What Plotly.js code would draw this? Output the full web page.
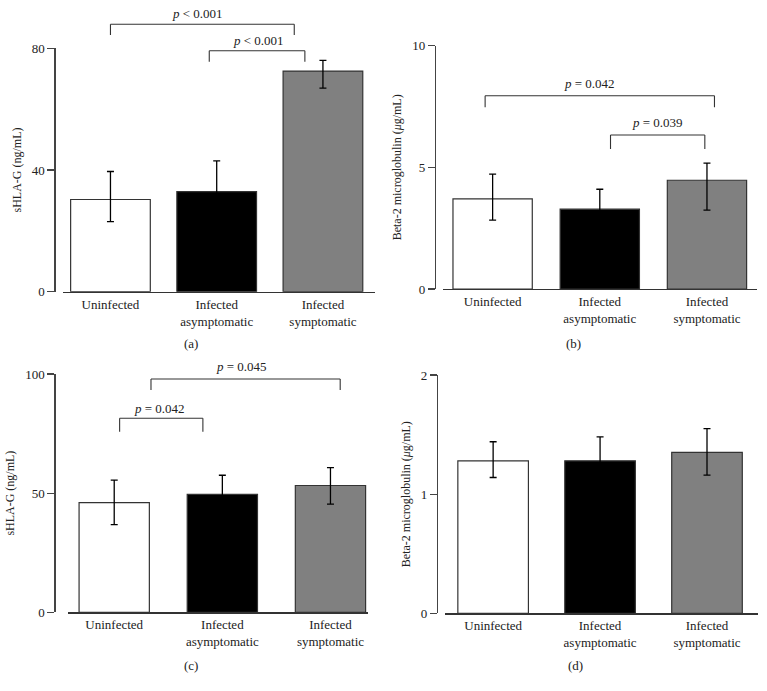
<!DOCTYPE html>
<html>
<head>
<meta charset="utf-8">
<script src="https://cdn.plot.ly/plotly-3.0.1.min.js"></script>
<style>html,body{margin:0;padding:0;background:#fff;}</style>
</head>
<body>
<div id="chart" style="width:767px;height:691px;"></div>
<script>
// ---- data ----
const categories = ['Uninfected', 'Infected<br>asymptomatic', 'Infected<br>symptomatic'];
const barColors = ['#ffffff', '#000000', '#808080'];

// (a) sHLA-G, ng/mL
const aMean = [30.3, 32.9, 72.5];
const aErrPlus = [9.2, 10.1, 3.5];
const aErrMinus = [7.3, 10.1, 5.6];
const aTicks = [0, 40, 80];

// (b) Beta-2 microglobulin, ug/mL
const bMean = [3.70, 3.28, 4.47];
const bErrPlus = [1.02, 0.82, 0.70];
const bErrMinus = [0.87, 0.82, 1.23];
const bTicks = [0, 5, 10];

// (c) sHLA-G, ng/mL
const cMean = [46.0, 49.5, 53.2];
const cErrPlus = [9.5, 8.0, 7.5];
const cErrMinus = [9.2, 8.0, 7.8];
const cTicks = [0, 50, 100];

// (d) Beta-2 microglobulin, ug/mL
const dMean = [1.28, 1.28, 1.35];
const dErrPlus = [0.16, 0.20, 0.20];
const dErrMinus = [0.14, 0.20, 0.19];
const dTicks = [0, 1, 2];

// significance brackets: [fromCategory, toCategory, label]
const aSig = [[0, 1.73, '<i>p</i> < 0.001'], [0.93, 1.83, '<i>p</i> < 0.001']];
const bSig = [[-0.07, 2.07, '<i>p</i> = 0.042'], [1.10, 1.98, '<i>p</i> = 0.039']];
const cSig = [[0.34, 2.09, '<i>p</i> = 0.045'], [0.05, 0.82, '<i>p</i> = 0.042']];

// ---- layout config ----
const FONT = 'Liberation Serif, Times New Roman, serif';
const panels = [
  {mean: aMean, ep: aErrPlus, em: aErrMinus, ticks: aTicks, title: 'sHLA-G (ng/mL)',
   xd: [0.0817, 0.4889], yd: [0.5779, 0.9301], pos: 0.0708, xr: [-0.45, 2.49], bw: 0.75,
   sig: aSig, sigY: [[87.9, 84.4, 91.6, 0.82], [79.2, 75.6, 82.6, 1.39]], tag: '(a)', tagXY: [0.2486, 0.5032]},
  {mean: bMean, ep: bErrPlus, em: bErrMinus, ticks: bTicks, title: 'Beta-2 microglobulin (<i>μ</i>g/mL)',
   xd: [0.5780, 0.9874], yd: [0.5818, 0.9339], pos: 0.5671, xr: [-0.46, 2.47], bw: 0.74,
   sig: bSig, sigY: [[7.94, 7.47, 8.43, 0.90], [6.33, 5.75, 6.84, 1.54]], tag: '(b)', tagXY: [0.7475, 0.5032]},
  {mean: cMean, ep: cErrPlus, em: cErrMinus, ticks: cTicks, title: 'sHLA-G (ng/mL)',
   xd: [0.0883, 0.4802], yd: [0.1139, 0.4588], pos: 0.0708, xr: [-0.43, 2.35], bw: 0.65,
   sig: cSig, sigY: [[97.9, 93.3, 103.1, 1.18], [81.4, 75.8, 85.6, 0.42]], tag: '(c)', tagXY: [0.2486, 0.0376]},
  {mean: dMean, ep: dErrPlus, em: dErrMinus, ticks: dTicks, title: 'Beta-2 microglobulin (<i>μ</i>g/mL)',
   xd: [0.5802, 0.9887], yd: [0.1124, 0.4573], pos: 0.5694, xr: [-0.45, 2.48], bw: 0.66,
   sig: [], sigY: [], tag: '(d)', tagXY: [0.7497, 0.0376]}
];

const traces = [];
const layout = {
  width: 767, height: 691,
  margin: {l: 0, r: 0, t: 0, b: 0},
  paper_bgcolor: '#ffffff', plot_bgcolor: 'rgba(0,0,0,0)',
  showlegend: false,
  font: {family: FONT, size: 13, color: '#222'},
  shapes: [], annotations: []
};

panels.forEach((p, i) => {
  const n = i === 0 ? '' : String(i + 1);
  const xa = 'x' + n, ya = 'y' + n;
  const ymax = p.ticks[p.ticks.length - 1];
  traces.push({
    type: 'bar', x: [0, 1, 2], y: p.mean, xaxis: xa, yaxis: ya, width: p.bw,
    marker: {color: barColors, line: {color: '#333', width: 1.2}},
    error_y: {type: 'data', symmetric: false, array: p.ep, arrayminus: p.em,
              color: '#000', thickness: 1.3, width: 3.5},
    hoverinfo: 'none'
  });
  layout['xaxis' + n] = {
    domain: p.xd, anchor: ya, range: p.xr,
    tickmode: 'array', tickvals: [0, 1, 2], ticktext: categories,
    showline: true, linecolor: '#333', linewidth: 1.4, ticks: '',
    showgrid: false, zeroline: false, fixedrange: true,
    tickfont: {family: FONT, size: 13, color: '#222'}
  };
  layout['yaxis' + n] = {
    domain: p.yd, anchor: 'free', position: p.pos, range: [0, ymax],
    tickmode: 'array', tickvals: p.ticks,
    showline: true, linecolor: '#444', linewidth: 1.4,
    ticks: 'outside', ticklen: 7, tickwidth: 1.2, tickcolor: '#444',
    showgrid: false, zeroline: false, fixedrange: true,
    tickfont: {family: FONT, size: 13, color: '#222'},
    title: {text: p.title, font: {family: FONT, size: 12, color: '#222'}, standoff: 6}
  };
  p.sig.forEach((s, k) => {
    const [yTop, yLeg, yLab, xLab] = p.sigY[k];
    const ln = {type: 'line', xref: xa, yref: ya + ' domain', line: {color: '#333', width: 1.1}};
    layout.shapes.push(Object.assign({}, ln, {x0: s[0], x1: s[1], y0: yTop / ymax, y1: yTop / ymax}));
    layout.shapes.push(Object.assign({}, ln, {x0: s[0], x1: s[0], y0: yLeg / ymax, y1: yTop / ymax}));
    layout.shapes.push(Object.assign({}, ln, {x0: s[1], x1: s[1], y0: yLeg / ymax, y1: yTop / ymax}));
    layout.annotations.push({xref: xa, yref: ya + ' domain', x: xLab, y: yLab / ymax,
      text: s[2], showarrow: false, xanchor: 'center', yanchor: 'middle',
      font: {family: FONT, size: 13, color: '#222'}});
  });
  layout.annotations.push({xref: 'paper', yref: 'paper', x: p.tagXY[0], y: p.tagXY[1],
    text: p.tag, showarrow: false, xanchor: 'center', yanchor: 'middle',
    font: {family: FONT, size: 13, color: '#222'}});
});

Plotly.newPlot('chart', traces, layout, {displayModeBar: false, staticPlot: true});
</script>
</body>
</html>
